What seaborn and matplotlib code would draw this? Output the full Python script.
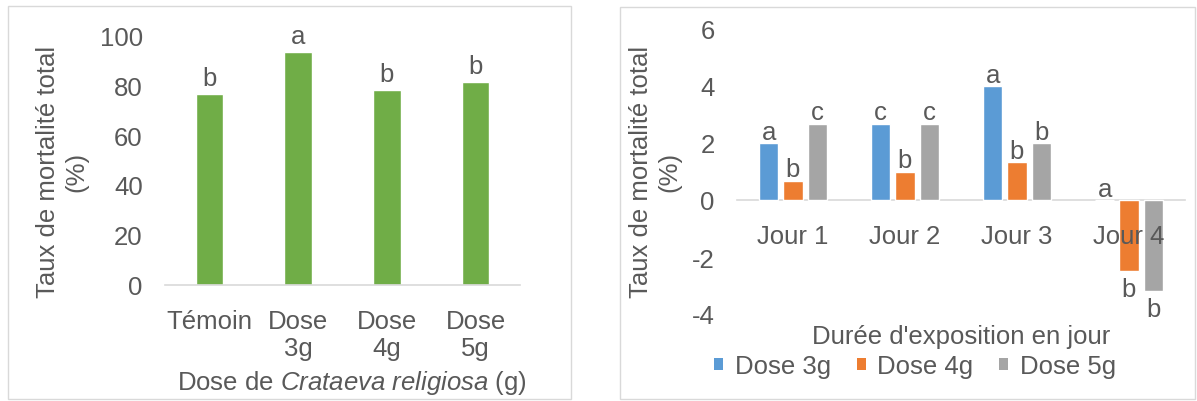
import matplotlib
matplotlib.use("Agg")
import matplotlib.pyplot as plt
from matplotlib.patches import Rectangle, Patch
import seaborn as sns
import pandas as pd

# ---- data ----
doses_left = ["Témoin", "Dose\n3g", "Dose\n4g", "Dose\n5g"]
mortality_left = [76.4, 93.3, 78.0, 81.3]
letters_left = ["b", "a", "b", "b"]

jours = ["Jour 1", "Jour 2", "Jour 3", "Jour 4"]
dose_series = ["Dose 3g", "Dose 4g", "Dose 5g"]
dose3g = [2.0, 2.67, 4.0, 0.0]
dose4g = [0.67, 1.0, 1.33, -2.5]
dose5g = [2.67, 2.67, 2.0, -3.2]
letters_3g = ["a", "c", "a", "a"]
letters_4g = ["b", "b", "b", "b"]
letters_5g = ["c", "c", "b", "b"]

left_yticks = [0, 20, 40, 60, 80, 100]
right_yticks = [-4, -2, 0, 2, 4, 6]

# ---- style ----
sns.set_theme(style="white")
plt.rcParams["font.family"] = ["Liberation Sans", "DejaVu Sans"]
plt.rcParams["mathtext.fontset"] = "custom"
plt.rcParams["mathtext.rm"] = "Liberation Sans"
plt.rcParams["mathtext.it"] = "Liberation Sans:italic"
plt.rcParams["axes.unicode_minus"] = False

TXT = "#595959"
AX = "#D9D9D9"
FS = 18.5
GREEN = "#70AD47"
PAL = ["#5B9BD5", "#ED7D31", "#A5A5A5"]

W, H = 1197, 402
fig = plt.figure(figsize=(W / 100, H / 100), dpi=100)


def fx(px):
    return px / W


def fy(py):
    return 1 - py / H


# panel borders
for (x0, y0, x1, y1) in [(8, 7, 571, 400), (620, 8, 1195, 400)]:
    fig.patches.append(Rectangle((fx(x0), fy(y1)), fx(x1) - fx(x0), fy(y0) - fy(y1),
                                 transform=fig.transFigure, fill=False,
                                 edgecolor=AX, linewidth=1.0))

# ---- left chart ----
ax1 = fig.add_axes([fx(165), fy(286), fx(520) - fx(165), fy(36) - fy(286)])
dfl = pd.DataFrame({"dose": doses_left, "val": mortality_left})
sns.barplot(data=dfl, x="dose", y="val", color=GREEN, saturation=1, width=0.31,
            errorbar=None, ax=ax1)
ax1.set_ylim(0, 100)
ax1.set_yticks(left_yticks)
ax1.set_xlabel("")
ax1.set_ylabel("")
for s in ["top", "right", "left"]:
    ax1.spines[s].set_visible(False)
ax1.spines["bottom"].set_color(AX)
ax1.spines["bottom"].set_linewidth(1.2)
ax1.tick_params(axis="both", length=0, labelsize=FS, labelcolor=TXT)
ax1.tick_params(axis="x", pad=17)
ax1.tick_params(axis="y", pad=16)
for p, lab in zip(ax1.containers[0], letters_left):
    ax1.annotate(lab, (p.get_x() + p.get_width() / 2, p.get_y() + p.get_height()),
                 xytext=(0, 6.3), textcoords="offset points", ha="center",
                 va="baseline", fontsize=FS, color=TXT)

fig.text(fx(62), fy(172), "Taux de mortalité total\n(%)", rotation=90, ha="center",
         va="center", multialignment="center", fontsize=FS, color=TXT)
fig.text(fx(352), fy(383), r"Dose de $\mathit{Crataeva\ religiosa}$ (g)", ha="center",
         va="center", fontsize=FS, color=TXT)

# ---- right chart ----
ax2 = fig.add_axes([fx(737), fy(315), fx(1185) - fx(737), fy(30) - fy(315)])
dfr = pd.DataFrame({
    "jour": jours * 3,
    "dose": [d for d in dose_series for _ in jours],
    "val": dose3g + dose4g + dose5g,
})
sns.barplot(data=dfr, x="jour", y="val", hue="dose", palette=PAL, saturation=1,
            width=0.65, gap=0.2, errorbar=None, ax=ax2)
ax2.set_ylim(-4, 6)
ax2.set_yticks(right_yticks)
ax2.set_xlabel("")
ax2.set_ylabel("")
ax2.set_axisbelow(False)
for s in ["top", "right", "left"]:
    ax2.spines[s].set_visible(False)
ax2.spines["bottom"].set_position(("data", 0))
ax2.spines["bottom"].set_color(AX)
ax2.spines["bottom"].set_linewidth(1.2)
ax2.spines["bottom"].set_zorder(0.5)
ax2.tick_params(axis="both", length=0, labelsize=FS, labelcolor=TXT)
ax2.tick_params(axis="x", pad=17)
ax2.tick_params(axis="y", pad=16)

if ax2.get_legend() is not None:
    ax2.get_legend().remove()

for cont, labs in zip(ax2.containers, [letters_3g, letters_4g, letters_5g]):
    for p, lab in zip(cont, labs):
        h = p.get_height()
        x = p.get_x() + p.get_width() / 2
        if h >= 0:
            ax2.annotate(lab, (x, p.get_y() + h), xytext=(0, 3.2),
                         textcoords="offset points", ha="center", va="baseline",
                         fontsize=FS, color=TXT)
        else:
            ax2.annotate(lab, (x, p.get_y() + h), xytext=(0, -4.3),
                         textcoords="offset points", ha="center", va="top",
                         fontsize=FS, color=TXT)

fig.text(fx(655), fy(172), "Taux de mortalité total\n(%)", rotation=90, ha="center",
         va="center", multialignment="center", fontsize=FS, color=TXT)
fig.text(fx(961), fy(337), "Durée d'exposition en jour", ha="center", va="center",
         fontsize=FS, color=TXT)

handles = [Patch(facecolor=c, edgecolor="none") for c in PAL]
fig.legend(handles, dose_series, loc="center", bbox_to_anchor=(fx(915), fy(367)),
           ncol=3, frameon=False, fontsize=FS, labelcolor=TXT, handlelength=0.36,
           handleheight=0.36, handletextpad=0.45, columnspacing=1.0, borderpad=0,
           borderaxespad=0)

fig.savefig("out.png", dpi=100)
